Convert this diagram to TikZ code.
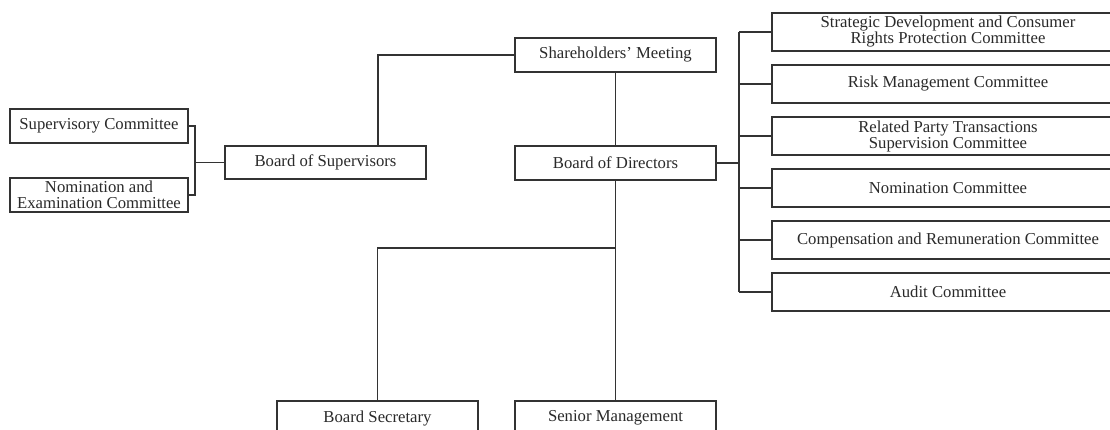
\documentclass[tikz,border=0pt]{standalone}
\usepackage{fontspec}
\setmainfont{Liberation Serif}
\definecolor{ink}{HTML}{2A2A2A}
\definecolor{rule}{HTML}{333333}
\begin{document}
\begin{tikzpicture}[x=1pt,y=-1pt,
  orgbox/.style={draw=rule, line width=1.1pt, rectangle, inner sep=0pt,
    minimum width=201pt, minimum height=34pt, align=center, text=ink,
    font=\fontsize{16.7}{16}\selectfont},
  sidebox/.style={orgbox, minimum width=178pt},
  combox/.style={orgbox, minimum width=352pt, minimum height=38pt},
  link/.style={draw=rule, line width=1.1pt}]
\useasboundingbox (0,0) rectangle (1110,429);
\fill[white] (0,0) rectangle (1110,429);

% supervisory side
\node[sidebox] (sc)  at (99,126) {Supervisory Committee};
\node[sidebox] (nec) at (99,195) {Nomination and\\Examination Committee};
\node[orgbox, minimum height=33pt] (bos) at (325.5,162.5) {Board of Supervisors};

% central column
\node[orgbox] (shm) at (615.5,55)  {Shareholders' Meeting};
\node[orgbox] (bod) at (615.5,163) {Board of Directors};
\node[orgbox] (bsec) at (377.5,418) {Board Secretary};
\node[orgbox] (smg)  at (615.5,418) {Senior Management};

% board committees
\node[combox] (r1) at (948,32)  {Strategic Development and Consumer\\Rights Protection Committee};
\node[combox] (r2) at (948,84)  {Risk Management Committee};
\node[combox] (r3) at (948,136) {Related Party Transactions\\Supervision Committee};
\node[combox] (r4) at (948,188) {Nomination Committee};
\node[combox] (r5) at (948,240) {Compensation and Remuneration Committee};
\node[combox] (r6) at (948,292) {Audit Committee};

% helper joints
\coordinate (js) at (195,162.5);
\coordinate (bus) at (739,163);
\coordinate (split) at (615.5,248);

% connectors: supervisory side
\draw[link] (sc.east) -| (js) |- (nec.east);
\draw[link] (js) -- (bos.west);
\draw[link] ([xshift=52.5pt]bos.north) |- (shm.west);

% connectors: central column
\draw[link] (shm.south) -- (bod.north);
\draw[link] (bod.south) -- (smg.north);
\draw[link] (split) -| (bsec.north);

% connectors: committee bus
\draw[link] (bod.east) -- (bus);
\draw[link] (r1.west -| bus) -- (r6.west -| bus);
\foreach \i in {1,...,6}{
  \draw[link] (r\i.west -| bus) -- (r\i.west);
}
\end{tikzpicture}
\end{document}
